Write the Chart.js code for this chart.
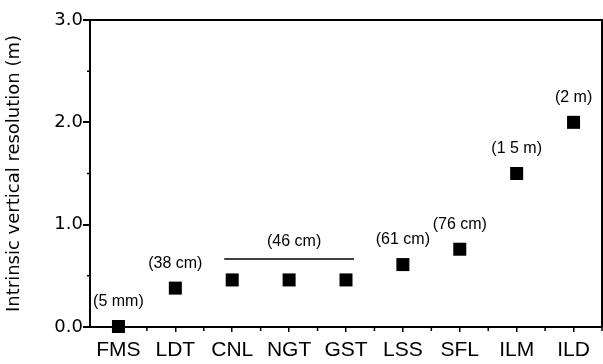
<!DOCTYPE html>
<html>
<head>
<meta charset="utf-8">
<script src="https://cdn.jsdelivr.net/npm/chart.js@4"></script>
<style>
  html, body { margin: 0; padding: 0; background: #fff; }
  #wrap { width: 603px; height: 364px; }
</style>
</head>
<body>
<div id="wrap"><canvas id="resChart" width="603" height="364"></canvas></div>
<script>
var sites = ['FMS', 'LDT', 'CNL', 'NGT', 'GST', 'LSS', 'SFL', 'ILM', 'ILD'];
var resolution = [0.005, 0.38, 0.46, 0.46, 0.46, 0.61, 0.76, 1.5, 2.0];
var valueLabels = ['(5 mm)', '(38 cm)', '', '', '', '(61 cm)', '(76 cm)', '(1 5 m)', '(2 m)'];
var groupLabel = '(46 cm)';
var groupSites = ['CNL', 'GST'];
var yTicks = [0, 1, 2, 3];

// frame, minor ticks and the value labels above the points
var annotate = {
  id: 'annotate',
  afterDatasetsDraw: function(chart) {
    var ctx = chart.ctx, a = chart.chartArea;
    var x = chart.scales.x, y = chart.scales.y;
    ctx.save();
    ctx.strokeStyle = '#000';
    ctx.lineWidth = 2;
    ctx.beginPath();
    ctx.moveTo(a.left, a.top);
    ctx.lineTo(a.right, a.top);
    ctx.lineTo(a.right, a.bottom);
    ctx.stroke();

    // minor ticks
    ctx.lineWidth = 1.5;
    ctx.beginPath();
    for (var v = 0.5; v < 3; v += 1) {
      var py = y.getPixelForValue(v);
      ctx.moveTo(a.left, py);
      ctx.lineTo(a.left - 3, py);
    }
    var half = (x.getPixelForValue(1) - x.getPixelForValue(0)) / 2;
    for (var i = 0; i < sites.length; i++) {
      var px = x.getPixelForValue(i) + half;
      ctx.moveTo(px, a.bottom);
      ctx.lineTo(px, a.bottom + 4);
    }
    ctx.stroke();

    ctx.fillStyle = '#000';
    ctx.font = '16px "Liberation Sans", Arial, sans-serif';
    ctx.textAlign = 'center';
    ctx.textBaseline = 'middle';
    valueLabels.forEach(function(t, i) {
      if (!t) return;
      ctx.fillText(t, x.getPixelForValue(i), y.getPixelForValue(resolution[i]) - 25);
    });

    // shared label over CNL..GST
    var i0 = sites.indexOf(groupSites[0]), i1 = sites.indexOf(groupSites[1]);
    var gy = y.getPixelForValue(resolution[i0]) - 21;
    ctx.lineWidth = 1.5;
    ctx.beginPath();
    ctx.moveTo(x.getPixelForValue(i0) - 8, gy);
    ctx.lineTo(x.getPixelForValue(i1) + 8, gy);
    ctx.stroke();
    ctx.fillText(groupLabel, (x.getPixelForValue(i0) + x.getPixelForValue(i1)) / 2 + 5, gy - 17);
    ctx.restore();
  }
};

new Chart('resChart', {
  type: 'line',
  data: {
    labels: sites,
    datasets: [{
      data: resolution,
      showLine: false,
      pointStyle: 'rect',
      pointRadius: 9.2,
      pointHoverRadius: 9.2,
      pointBorderWidth: 0,
      backgroundColor: '#000',
      borderColor: '#000',
      clip: false
    }]
  },
  options: {
    responsive: false,
    animation: false,
    events: [],
    layout: { autoPadding: false, padding: { top: 20, right: 1, left: 0, bottom: 0 } },
    plugins: { legend: { display: false }, tooltip: { enabled: false } },
    scales: {
      x: {
        offset: true,
        grid: { offset: false, drawOnChartArea: false, tickLength: 5, color: '#000', lineWidth: 1.5 },
        border: { color: '#000', width: 2 },
        ticks: {
          color: '#000',
          padding: 6,
          font: { family: '"Liberation Sans", Arial, sans-serif', size: 21 }
        },
        afterFit: function(s) {
          s.height = 37;
          s.paddingLeft = 0;
          s.paddingRight = 0;
        }
      },
      y: {
        min: 0,
        max: 3,
        afterBuildTicks: function(s) { s.ticks = yTicks.map(function(v) { return { value: v }; }); },
        grid: { drawOnChartArea: false, tickLength: 7, color: '#000', lineWidth: 2 },
        border: { color: '#000', width: 2 },
        ticks: {
          color: '#000',
          padding: 0,
          font: { family: '"DejaVu Sans", sans-serif', size: 18 },
          callback: function(v) { return Number(v).toFixed(1); }
        },
        title: {
          display: true,
          text: 'Intrinsic vertical resolution (m)',
          color: '#000',
          font: { family: '"DejaVu Sans", sans-serif', size: 18 },
          padding: { top: 4, bottom: 4 }
        },
        afterFit: function(s) { s.width = 90; }
      }
    }
  },
  plugins: [annotate]
});
</script>
</body>
</html>
